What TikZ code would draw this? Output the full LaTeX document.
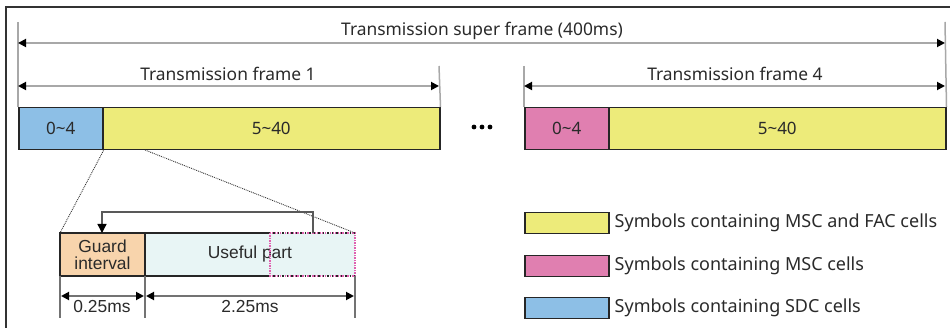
\documentclass[tikz,border=0pt]{standalone}
\usepackage{fontspec}
\setmainfont{Noto Sans}
\newfontfamily\arialf{Liberation Sans}
\usetikzlibrary{arrows.meta}
\definecolor{cblue}{HTML}{8DBFE6}
\definecolor{cyellow}{HTML}{EDEB7A}
\definecolor{cpink}{HTML}{E07FB0}
\definecolor{corange}{HTML}{F8D4AC}
\definecolor{ccyan}{HTML}{E8F5F5}
\definecolor{cdot}{HTML}{E060B0}
\definecolor{ctext}{HTML}{2A2A2A}
\definecolor{cdim}{HTML}{A8A8A8}
\begin{document}
\begin{tikzpicture}[x=1pt,y=-1pt,
  cell/.style={draw=black!85, line width=1.5pt, anchor=north west, minimum height=42pt, inner sep=0pt, text=ctext, font=\fontsize{17}{19}\selectfont},
  legbox/.style={draw=black!85, line width=1.5pt, anchor=north west, minimum width=84pt, minimum height=21pt, inner sep=0pt},
  legtext/.style={anchor=west, text=ctext, inner sep=0pt, font=\fontsize{18}{20}\selectfont},
  title/.style={text=ctext, inner sep=0pt, font=\fontsize{17.4}{19}\selectfont},
  ext/.style={draw=cdim, line width=1.5pt},
  dim/.style={draw=cdim, line width=1.8pt, {Triangle[length=8pt,width=8pt,fill=black,color=black]}-{Triangle[length=8pt,width=8pt,fill=black,color=black]}},
  zoomline/.style={draw=black!80, line width=0.9pt, densely dotted},
  small/.style={text=ctext, inner sep=0pt, font=\arialf\fontsize{17.4}{20}\selectfont, align=center}
]
\useasboundingbox (0,0) rectangle (950,328);
\draw[line width=1.5pt, black!80] (6,328) -- (6,7) -- (950,7);

% frame 1
\node[cell, fill=cblue, minimum width=84pt] (a1) at (18,107) {0\textasciitilde 4};
\node[cell, fill=cyellow, minimum width=337pt] (a2) at (102,107) {5\textasciitilde 40};
% frame 4
\node[cell, fill=cpink, minimum width=84pt] (b1) at (524,107) {0\textasciitilde 4};
\node[cell, fill=cyellow, minimum width=337pt] (b2) at (608,107) {5\textasciitilde 40};

% dots
\foreach \x in {474,482,490} \fill[black] (\x,127) circle (2.4pt);

% extension lines
\coordinate (e1t) at (18,22);
\coordinate (e2t) at (945,22);
\coordinate (e3t) at (439,66);
\coordinate (e4t) at (524,66);
\draw[ext] (e1t) -- (a1.north west);
\draw[ext] (e2t) -- (b2.north east);
\draw[ext] (e3t) -- (a2.north east);
\draw[ext] (e4t) -- (b1.north west);

% dimension arrows
\coordinate (s1) at (18,43); \coordinate (s2) at (945,43);
\draw[dim] (s1) -- (s2);
\node[title] (tsuper) at (482,31) {Transmission super frame (400ms)};
\coordinate (f1a) at (18,86); \coordinate (f1b) at (439,86);
\draw[dim] (f1a) -- (f1b);
\node[title] (tf1) at (228,74) {Transmission frame 1};
\coordinate (f4a) at (524,86); \coordinate (f4b) at (945,86);
\draw[dim] (f4a) -- (f4b);
\node[title] (tf4) at (735,74) {Transmission frame 4};

% zoomed symbol
\fill[corange] (60,233) rectangle (145,276);
\fill[ccyan] (145,233) rectangle (355,276);
\node[small, anchor=center] (guard) at (102.5,254.5) {Guard\\[-3pt]interval};
\node[small] (useful) at (250,254) {Useful part};
\coordinate (g1) at (60,233);
\coordinate (g2) at (145,233);
\coordinate (g3) at (145,276);
\coordinate (g4) at (60,276);
\coordinate (u1) at (270,233);
\coordinate (u2) at (270,276);
\coordinate (u3) at (355,233);
\coordinate (u4) at (355,276);
\draw[line width=1.5pt, black!85] (g1) rectangle (g3);
\draw[line width=1.5pt, black!85] (u1) -- (g2) -- (g3) -- (u2);
\draw[line width=1.5pt, cdot, densely dotted] (u1) rectangle (u4);
\draw[line width=1.5pt, black!85, dash pattern=on 1.5pt off 3pt, dash phase=1.5pt] (u1) -- (u3) (u2) -- (u4);

% zoom lines
\draw[zoomline] (a1.south east) -- (g1);
\draw[zoomline] (145,150) -- (u3);

% cyclic prefix bracket
\coordinate (cpA) at (313,233);
\coordinate (cpB) at (102,233);
\draw[line width=1.3pt, black!65, -{Triangle[length=9pt,width=9pt,fill=black,color=black]}] (cpA) -- (313,212) -- (102,212) -- (cpB);

% lower dimension lines
\coordinate (d1) at (60,318); \coordinate (d2) at (145,318); \coordinate (d3) at (355,318);
\draw[ext, black!55] (g4) -- (d1);
\draw[ext, black!55] (g3) -- (d2);
\draw[ext, black!55] (u4) -- (d3);
\coordinate (l1) at (60,296); \coordinate (l2) at (145,296); \coordinate (l3) at (355,296);
\draw[dim, draw=black!55, shorten >=1pt, shorten <=1pt] (l1) -- (l2);
\draw[dim, draw=black!55, shorten >=1pt, shorten <=1pt] (l2) -- (l3);
\node[small] (t025) at (102,307) {0.25ms};
\node[small] (t225) at (250,307) {2.25ms};

% legend
\node[legbox, fill=cyellow] (ly) at (524,212) {};
\node[legbox, fill=cpink] (lp) at (524,255) {};
\node[legbox, fill=cblue] (lb) at (524,297) {};
\node[legtext] (tly) at ([xshift=5pt]ly.east) {Symbols containing MSC and FAC cells};
\node[legtext] (tlp) at ([xshift=5pt]lp.east) {Symbols containing MSC cells};
\node[legtext] (tlb) at ([xshift=5pt]lb.east) {Symbols containing SDC cells};
\end{tikzpicture}
\end{document}
